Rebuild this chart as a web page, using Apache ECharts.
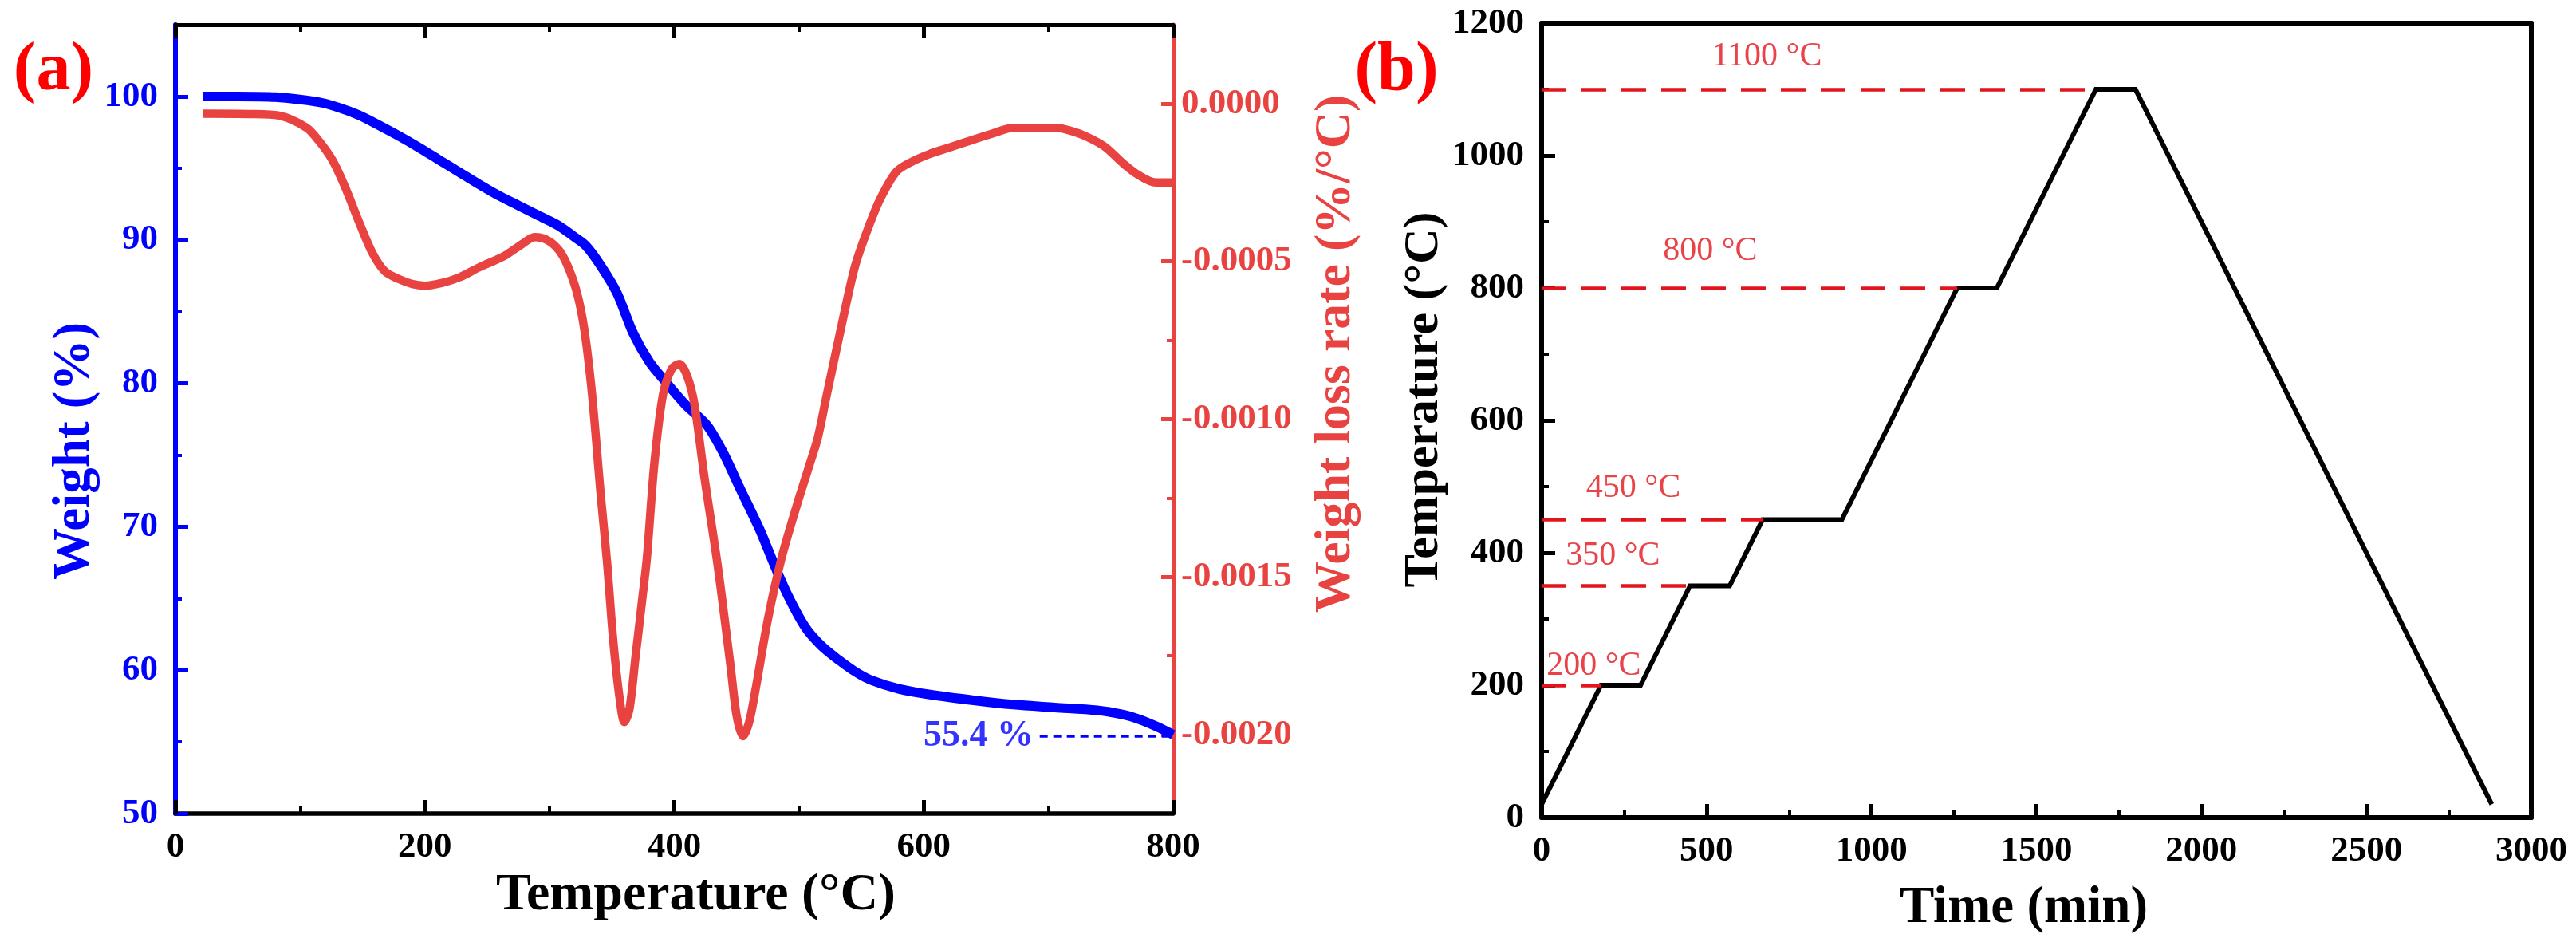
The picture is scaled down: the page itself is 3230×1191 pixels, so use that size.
<!DOCTYPE html>
<html>
<head>
<meta charset="utf-8">
<script src="https://cdn.jsdelivr.net/npm/echarts@6/dist/echarts.min.js"></script>
<style>
  html, body { margin: 0; padding: 0; background: #fff; }
  #chart { width: 3230px; height: 1191px; }
</style>
</head>
<body>
<div id="chart"></div>
<script>
// ---- panel (a): TG curve, weight (%) vs temperature (°C)
const tgTemp = [22, 50, 80, 115, 130, 147, 163, 179, 195, 211, 227, 243, 259, 275, 291, 307, 320, 329, 341, 354,
  367, 380, 394, 409, 426, 439, 452, 469, 478, 490, 505, 518, 532, 545, 558, 580, 605, 640, 672, 705,
  739, 760, 772, 786, 800];
const tgWeight = [100, 100, 99.95, 99.6, 99.25, 98.7, 98.0, 97.25, 96.45, 95.6, 94.75, 93.9, 93.1, 92.4, 91.7, 91.0, 90.2, 89.6, 88.2, 86.3,
  83.5, 81.5, 80.0, 78.5, 77.1, 75.2, 72.8, 69.7, 67.8, 65.4, 63.0, 61.7, 60.7, 59.9, 59.3, 58.7, 58.3, 57.9, 57.6, 57.4,
  57.2, 56.9, 56.6, 56.1, 55.5];

// ---- panel (a): DTG curve, weight loss rate (%/°C)
const dtgTemp = [22, 60, 83, 105, 115, 126, 136, 147, 158, 168, 179, 190, 200, 214, 228, 243, 264, 278, 288, 298,
  307, 314, 322, 328, 334, 341, 346, 351, 356, 360, 364, 369, 374, 378, 384, 391, 398, 404, 410, 416,
  424, 435, 445, 450, 455, 460, 465, 475, 486, 498, 508, 515, 522, 535, 545, 555, 565, 578, 590, 605,
  620, 639, 655, 672, 690, 706, 722, 735, 746, 760, 772, 786, 800];
const dtgRate = [-0.000032, -0.000033, -0.000038, -0.000076, -0.000118, -0.000180, -0.000264, -0.000373, -0.000474, -0.000532,
  -0.000556, -0.000572, -0.000577, -0.000568, -0.000550, -0.000520, -0.000482, -0.000445, -0.000423, -0.000432,
  -0.000462, -0.000510, -0.000600, -0.000720, -0.000920, -0.001240, -0.001450, -0.001700, -0.001880, -0.001960,
  -0.001920, -0.001750, -0.001580, -0.001440, -0.001140, -0.000920, -0.000840, -0.000825, -0.000860, -0.000950,
  -0.001180, -0.001470, -0.001780, -0.001940, -0.002005, -0.001960, -0.001860, -0.001635, -0.001440, -0.001276,
  -0.001150, -0.001060, -0.000928, -0.000687, -0.000514, -0.000399, -0.000303, -0.000216, -0.000185, -0.000159,
  -0.000140, -0.000115, -0.000095, -0.000077, -0.000077, -0.000077, -0.000091, -0.000113, -0.000139, -0.000190,
  -0.000226, -0.000250, -0.000250];

// residue mark
const residueValue = 55.4;
const residueLine = [693, 800];     // temperature span of the dotted guide
const residueLabelTemp = 644;
const residueText = '55.4 %';

// axis ticks, panel (a)
const weightTicks = [50, 60, 70, 80, 90, 100];
const weightMinor = [55, 65, 75, 85, 95];
const rateTicks = [0, -0.0005, -0.001, -0.0015, -0.002];
const rateMinor = [-0.00025, -0.00075, -0.00125, -0.00175];

// ---- panel (b): heating programme
const progTime = [0, 180, 300, 450, 570, 670, 910, 1260, 1380, 1680, 1800, 2880];
const progTemp = [20, 200, 200, 350, 350, 450, 450, 800, 800, 1100, 1100, 20];
const holdTemps = [200, 350, 450, 800, 1100];
const holdStart = [180, 450, 670, 1260, 1680];
const holdLabels = ['200 °C', '350 °C', '450 °C', '800 °C', '1100 °C'];
const holdLabelTime = [158, 216, 278, 511, 683];
const holdLabelTemp = [229, 395, 498, 855, 1149];

const FONT = '"Liberation Serif", "Times New Roman", serif';
const BLUE = '#0000ff';
const RED = '#e84341';
const DASHRED = '#e3141b';

const chart = echarts.init(document.getElementById('chart'), null, { renderer: 'canvas' });

function tickLabel(color, margin) {
  return { color: color, fontFamily: FONT, fontWeight: 'bold', fontSize: 45, margin: margin, formatter: v => String(v) };
}

const gridA = { left: 220, right: 1759, top: 31, bottom: 171 };

const option = {
  animation: false,
  backgroundColor: '#fff',
  grid: [
    gridA,
    { left: 1933, right: 56, top: 29, bottom: 166 },
    Object.assign({}, gridA)          // overlay grid, carries only the minor ticks of panel (a)
  ],
  xAxis: [
    {
      gridIndex: 0, type: 'value', position: 'bottom', min: 0, max: 800, interval: 200,
      axisLine: { onZero: false, lineStyle: { color: '#000', width: 5.5 } },
      axisTick: { inside: true, length: 17, lineStyle: { color: '#000', width: 5 } },
      minorTick: { show: true, splitNumber: 2, length: 9, lineStyle: { color: '#000', width: 4 } },
      axisLabel: tickLabel('#000', 20),
      splitLine: { show: false },
      name: 'Temperature (°C)', nameLocation: 'middle', nameGap: 70,
      nameTextStyle: { color: '#000', fontFamily: FONT, fontWeight: 'bold', fontSize: 66, padding: [0, 0, 0, 54] }
    },
    {
      gridIndex: 0, type: 'value', position: 'top', min: 0, max: 800, interval: 200,
      axisLine: { onZero: false, lineStyle: { color: '#000', width: 5 } },
      axisTick: { inside: true, length: 17, lineStyle: { color: '#000', width: 5 } },
      minorTick: { show: true, splitNumber: 2, length: 9, lineStyle: { color: '#000', width: 4 } },
      axisLabel: { show: false },
      splitLine: { show: false }
    },
    {
      gridIndex: 1, type: 'value', position: 'bottom', min: 0, max: 3000, interval: 500,
      axisLine: { onZero: false, lineStyle: { color: '#000', width: 6 } },
      axisTick: { inside: true, length: 17, lineStyle: { color: '#000', width: 5 } },
      minorTick: { show: true, splitNumber: 2, length: 9, lineStyle: { color: '#000', width: 4 } },
      axisLabel: tickLabel('#000', 20),
      splitLine: { show: false },
      name: 'Time (min)', nameLocation: 'middle', nameGap: 82,
      nameTextStyle: { color: '#000', fontFamily: FONT, fontWeight: 'bold', fontSize: 65, padding: [0, 32, 0, 0] }
    },
    {
      gridIndex: 1, type: 'value', position: 'top', min: 0, max: 3000,
      axisLine: { onZero: false, lineStyle: { color: '#000', width: 6 } },
      axisTick: { show: false }, axisLabel: { show: false }, splitLine: { show: false }
    },
    {
      gridIndex: 2, type: 'value', position: 'bottom', min: 0, max: 800, show: false
    }
  ],
  yAxis: [
    {
      gridIndex: 0, type: 'value', position: 'left', min: 50, max: 105,
      axisLine: { show: true, onZero: false, lineStyle: { color: BLUE, width: 6 } },
      axisTick: { show: true, inside: true, length: 16, customValues: weightTicks, lineStyle: { color: BLUE, width: 5 } },
      axisLabel: Object.assign(tickLabel(BLUE, 22), { customValues: weightTicks }),
      splitLine: { show: false },
      name: 'Weight (%)', nameLocation: 'middle', nameGap: 85,
      nameTextStyle: { color: BLUE, fontFamily: FONT, fontWeight: 'bold', fontSize: 65, padding: [0, 80, 0, 0] }
    },
    {
      gridIndex: 0, type: 'value', position: 'right', min: -0.00225, max: 0.00025,
      axisLine: { show: true, onZero: false, lineStyle: { color: RED, width: 5 } },
      axisTick: { show: true, inside: true, length: 15, customValues: rateTicks, lineStyle: { color: RED, width: 5 } },
      axisLabel: Object.assign(tickLabel(RED, 10), {
        customValues: rateTicks,
        formatter: function (v) { return (Math.abs(v) < 1e-9 ? 0 : v).toFixed(4); }
      }),
      splitLine: { show: false },
      name: 'Weight loss rate (%/°C)', nameLocation: 'middle', nameGap: 172,
      nameTextStyle: { color: RED, fontFamily: FONT, fontWeight: 'bold', fontSize: 64, padding: [0, 0, 0, 164] }
    },
    {
      gridIndex: 1, type: 'value', position: 'left', min: 0, max: 1200, interval: 200,
      axisLine: { show: true, onZero: false, lineStyle: { color: '#000', width: 6 } },
      axisTick: { inside: true, length: 17, lineStyle: { color: '#000', width: 5 } },
      minorTick: { show: true, splitNumber: 2, length: 9, lineStyle: { color: '#000', width: 4 } },
      axisLabel: tickLabel('#000', 22),
      splitLine: { show: false },
      name: 'Temperature (°C)', nameLocation: 'middle', nameGap: 116,
      nameTextStyle: { color: '#000', fontFamily: FONT, fontWeight: 'bold', fontSize: 62, padding: [0, 0, 0, 52] }
    },
    {
      gridIndex: 1, type: 'value', position: 'right', min: 0, max: 1200,
      axisLine: { show: true, onZero: false, lineStyle: { color: '#000', width: 6 } },
      axisTick: { show: false }, axisLabel: { show: false }, splitLine: { show: false }
    },
    {
      gridIndex: 2, type: 'value', position: 'left', min: 50, max: 105,
      axisLine: { show: false },
      axisTick: { show: true, inside: true, length: 8, customValues: weightMinor, lineStyle: { color: BLUE, width: 4 } },
      axisLabel: { show: false }, splitLine: { show: false }
    },
    {
      gridIndex: 2, type: 'value', position: 'right', min: -0.00225, max: 0.00025,
      axisLine: { show: false },
      axisTick: { show: true, inside: true, length: 8, customValues: rateMinor, lineStyle: { color: RED, width: 4 } },
      axisLabel: { show: false }, splitLine: { show: false }
    }
  ],
  graphic: [
    { type: 'text', x: 67, y: 90, style: { text: '(a)', fill: '#ff0000', font: 'bold 86px ' + FONT, textAlign: 'center', textVerticalAlign: 'middle' } },
    { type: 'text', x: 1751, y: 90, style: { text: '(b)', fill: '#ff0000', font: 'bold 86px ' + FONT, textAlign: 'center', textVerticalAlign: 'middle' } }
  ],
  series: [
    {
      name: 'Weight', type: 'line', xAxisIndex: 0, yAxisIndex: 0,
      data: tgTemp.map((t, i) => [t, tgWeight[i]]),
      showSymbol: false, smooth: 0.3,
      lineStyle: { color: BLUE, width: 12 },
      markLine: {
        silent: true, symbol: 'none', label: { show: false },
        lineStyle: { color: BLUE, width: 3.5, type: [10, 7] },
        data: [[{ coord: [residueLine[0], residueValue] }, { coord: [residueLine[1], residueValue] }]]
      }
    },
    {
      name: 'Weight loss rate', type: 'line', xAxisIndex: 0, yAxisIndex: 1,
      data: dtgTemp.map((t, i) => [t, dtgRate[i]]),
      showSymbol: false, smooth: 0.3,
      lineStyle: { color: RED, width: 10.5 }
    },
    {
      name: 'residue', type: 'scatter', xAxisIndex: 0, yAxisIndex: 0,
      data: [[residueLabelTemp, residueValue, residueText]],
      symbolSize: 1, itemStyle: { color: 'rgba(0,0,0,0)' },
      label: { show: true, position: 'inside', formatter: p => p.data[2], color: BLUE, fontFamily: FONT, fontWeight: 'bold', fontSize: 46 }
    },
    {
      name: 'Programme', type: 'line', xAxisIndex: 2, yAxisIndex: 2,
      data: progTime.map((t, i) => [t, progTemp[i]]),
      showSymbol: false,
      lineStyle: { color: '#000', width: 6, join: 'miter' },
      markLine: {
        silent: true, symbol: 'none', label: { show: false },
        lineStyle: { color: DASHRED, width: 4.5, type: [31, 19] },
        data: holdTemps.map((v, i) => [{ coord: [0, v] }, { coord: [holdStart[i], v] }])
      },
      z: 3
    },
    {
      name: 'hold labels', type: 'scatter', xAxisIndex: 2, yAxisIndex: 2,
      data: holdLabels.map((s, i) => [holdLabelTime[i], holdLabelTemp[i], s]),
      symbolSize: 1, itemStyle: { color: 'rgba(0,0,0,0)' },
      label: { show: true, position: 'inside', formatter: p => p.data[2], color: DASHRED, fontFamily: FONT, fontSize: 42 }
    }
  ]
};

chart.setOption(option);
</script>
</body>
</html>
